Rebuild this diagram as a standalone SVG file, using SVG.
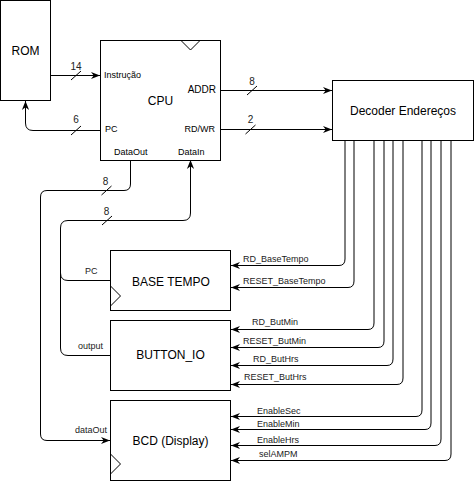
<svg xmlns="http://www.w3.org/2000/svg" width="474" height="482" viewBox="0 0 474 482">
<defs>
<marker id="arr" markerUnits="userSpaceOnUse" markerWidth="9" markerHeight="9" viewBox="0 0 10 10" refX="10" refY="5" orient="auto">
<path d="M0,1 L10,5 L0,9 L3,5 z" fill="#000"/>
</marker>
<style>
.box{fill:#fff;stroke:#000;stroke-width:1}
.clk{fill:none;stroke:#000;stroke-width:1}
.t{font-family:"Liberation Sans",Arial,sans-serif;fill:#000}
.big{font-size:12px;text-anchor:middle}
.port{font-size:9px}
.lbl{font-size:9px;fill:#222}
.num{font-size:10px;text-anchor:middle;fill:#222}
.w{fill:none;stroke:#000;stroke-width:1}
.a{marker-end:url(#arr)}
</style>
</defs>
<rect width="474" height="482" fill="#fff"/>
<g id="connectors">
<path class="w a" d="M50.5,75.5 H100"/>
<path class="w a" d="M100,130.5 H33 Q25.5,130.5 25.5,123 V101"/>
<path class="w a" d="M220,90.5 H332"/>
<path class="w a" d="M220,129.5 H332"/>
<path class="w a" d="M130.5,160 V184 Q130.5,190.5 124,190.5 H47 Q40.5,190.5 40.5,197 V434 Q40.5,440.5 47,440.5 H110"/>
<path class="w a" d="M110,355.5 H68 Q60.5,355.5 60.5,348 V228 Q60.5,220.5 68,220.5 H183 Q190.5,220.5 190.5,213 V160"/>
<path class="w" d="M110,280.5 H68 Q60.5,280.5 60.5,273"/>
<path class="w a" d="M345,140 V259 Q345,265.5 339,265.5 H231"/>
<path class="w a" d="M354,140 V281 Q354,287.5 348,287.5 H231"/>
<path class="w a" d="M374,140 V323 Q374,329.5 368,329.5 H231"/>
<path class="w a" d="M384,140 V341 Q384,347.5 378,347.5 H231"/>
<path class="w a" d="M393,140 V359 Q393,365.5 387,365.5 H231"/>
<path class="w a" d="M403,140 V378 Q403,384.5 397,384.5 H231"/>
<path class="w a" d="M422,140 V410 Q422,416.5 416,416.5 H231"/>
<path class="w a" d="M431,140 V423 Q431,429.5 425,429.5 H231"/>
<path class="w a" d="M441,140 V439 Q441,445.5 435,445.5 H231"/>
<path class="w a" d="M451,140 V454 Q451,460.5 445,460.5 H231"/>
<g stroke="#000" stroke-width="1">
<line x1="71" y1="80" x2="81" y2="71"/>
<line x1="71" y1="135" x2="81" y2="126"/>
<line x1="247" y1="95" x2="257" y2="86"/>
<line x1="245.5" y1="134" x2="255.5" y2="125"/>
<line x1="101.5" y1="195" x2="111.5" y2="186"/>
<line x1="102" y1="225" x2="112" y2="216"/>
</g>
<text class="t num" x="76" y="70">14</text>
<text class="t num" x="76" y="123">6</text>
<text class="t num" x="252" y="85">8</text>
<text class="t num" x="250.5" y="123">2</text>
<text class="t num" x="105.5" y="185">8</text>
<text class="t num" x="106.5" y="215">8</text>
<text class="t lbl" x="85" y="274">PC</text>
<text class="t lbl" x="78" y="349">output</text>
<text class="t lbl" x="75" y="433">dataOut</text>
<text class="t lbl" x="243" y="262">RD_BaseTempo</text>
<text class="t lbl" x="243" y="284">RESET_BaseTempo</text>
<text class="t lbl" x="252" y="325">RD_ButMin</text>
<text class="t lbl" x="243" y="344">RESET_ButMin</text>
<text class="t lbl" x="253" y="362">RD_ButHrs</text>
<text class="t lbl" x="244" y="380">RESET_ButHrs</text>
<text class="t lbl" x="257" y="414">EnableSec</text>
<text class="t lbl" x="257" y="427">EnableMin</text>
<text class="t lbl" x="257" y="443">EnableHrs</text>
<text class="t lbl" x="259" y="457">selAMPM</text>
</g>
<g id="rom">
<rect class="box" x="0.5" y="0.5" width="50" height="100"/>
<text class="t big" x="25.5" y="55">ROM</text>
</g>
<g id="cpu">
<rect class="box" x="100.5" y="40.5" width="120" height="120"/>
<path class="clk" d="M181,40.5 L190.5,50 L200,40.5"/>
<text class="t big" x="160.5" y="105">CPU</text>
<text class="t port" x="104" y="78">Instrução</text>
<text class="t" font-size="10" x="216" y="93" text-anchor="end">ADDR</text>
<text class="t port" x="105" y="132">PC</text>
<text class="t port" x="215" y="132" text-anchor="end">RD/WR</text>
<text class="t port" x="114" y="155">DataOut</text>
<text class="t port" x="178" y="155">DataIn</text>
</g>
<g id="decoder">
<rect class="box" x="332.5" y="80.5" width="141" height="60"/>
<text class="t big" x="403" y="114.5">Decoder Endereços</text>
</g>
<g id="basetempo">
<rect class="box" x="110.5" y="250.5" width="120" height="60"/>
<path class="clk" d="M110.5,286 L120.5,296 L110.5,306"/>
<text class="t big" x="171" y="285.5">BASE TEMPO</text>
</g>
<g id="buttonio">
<rect class="box" x="110.5" y="320.5" width="120" height="70"/>
<text class="t big" x="170.5" y="359">BUTTON_IO</text>
</g>
<g id="bcd">
<rect class="box" x="110.5" y="400.5" width="120" height="80"/>
<path class="clk" d="M110.5,454 L120.5,464 L110.5,474"/>
<text class="t big" x="170.5" y="445">BCD (Display)</text>
</g>
</svg>
